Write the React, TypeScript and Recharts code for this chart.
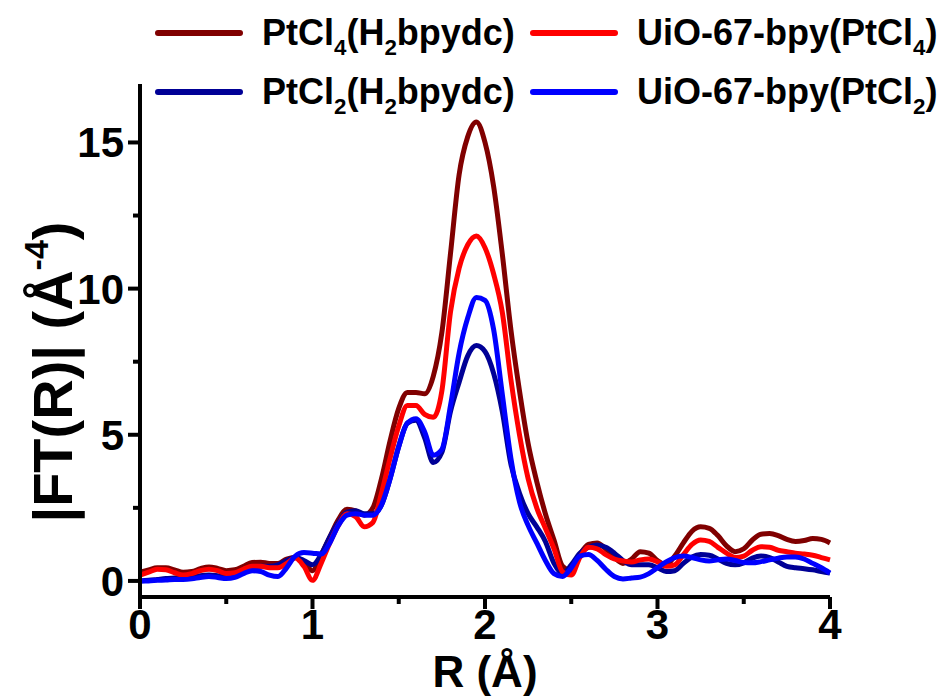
import React from "react";
import { LineChart, Line, XAxis, YAxis } from "recharts";

const R = [
  0, 0.05, 0.1, 0.15, 0.2, 0.25, 0.3, 0.35, 0.4, 0.45, 0.5, 0.55, 0.6, 0.65, 0.7, 0.75, 0.8, 0.85, 0.9, 0.95,
  1.0, 1.05, 1.1, 1.15, 1.2, 1.25, 1.3, 1.35, 1.4, 1.45, 1.5, 1.55, 1.6, 1.65, 1.7, 1.75, 1.8, 1.85, 1.9, 1.95,
  2.0, 2.05, 2.1, 2.15, 2.2, 2.25, 2.3, 2.35, 2.4, 2.45, 2.5, 2.55, 2.6, 2.65, 2.7, 2.75, 2.8, 2.85, 2.9, 2.95,
  3.0, 3.05, 3.1, 3.15, 3.2, 3.25, 3.3, 3.35, 3.4, 3.45, 3.5, 3.55, 3.6, 3.65, 3.7, 3.75, 3.8, 3.85, 3.9, 3.95, 4.0,
];

// PtCl4(H2bpydc)
const ptcl4Ligand = [
  0.3, 0.38, 0.45, 0.45, 0.38, 0.3, 0.32, 0.42, 0.48, 0.43, 0.35, 0.38, 0.5, 0.63, 0.64, 0.6, 0.6, 0.75, 0.8, 0.65,
  0.35, 0.9, 1.5, 2.1, 2.45, 2.4, 2.25, 2.5, 3.5, 4.8, 5.9, 6.45, 6.45, 6.4, 7.0, 8.5, 11.2, 13.9, 15.2, 15.7,
  15.0, 13.5, 11.2, 8.6, 6.5, 4.7, 3.4, 2.3, 1.4, 0.5, 0.35, 0.9, 1.25, 1.3, 1.1, 0.8, 0.6, 0.75, 1.0, 0.95,
  0.7, 0.55, 0.85, 1.3, 1.7, 1.85, 1.8, 1.55, 1.2, 1.0, 1.1, 1.4, 1.6, 1.62, 1.55, 1.42, 1.35, 1.38, 1.45, 1.42, 1.3,
];

// UiO-67-bpy(PtCl4)
const uioPtcl4 = [
  0.2, 0.3, 0.4, 0.38, 0.28, 0.2, 0.25, 0.35, 0.4, 0.35, 0.25, 0.28, 0.4, 0.5, 0.5, 0.45, 0.45, 0.6, 0.78, 0.5,
  0.02, 0.6, 1.3, 1.9, 2.3, 2.2, 1.85, 2.0, 3.0, 4.2, 5.3, 6.0, 6.0, 5.7, 5.6, 6.5, 9.2, 10.7, 11.5, 11.8,
  11.4, 10.5, 9.2, 6.9, 5.0, 3.5, 2.5, 1.8, 1.1, 0.3, 0.2, 0.8, 1.15, 1.1, 0.9, 0.75, 0.68, 0.65, 0.72, 0.75,
  0.65, 0.5, 0.55, 0.9, 1.25, 1.4, 1.35, 1.15, 0.95, 0.8, 0.85, 1.05, 1.17, 1.15, 1.05, 1.0, 0.95, 0.92, 0.88, 0.8, 0.72,
];

// PtCl2(H2bpydc)
const ptcl2Ligand = [
  0.0, 0.02, 0.05, 0.08, 0.1, 0.1, 0.12, 0.18, 0.2, 0.18, 0.15, 0.2, 0.35, 0.48, 0.5, 0.5, 0.55, 0.7, 0.8, 0.7,
  0.55, 0.9, 1.5, 2.0, 2.35, 2.4, 2.3, 2.3, 2.6, 3.5, 4.6, 5.4, 5.5, 4.9, 4.05, 4.4, 5.8, 6.8, 7.7, 8.05,
  7.85, 7.1, 5.8, 4.0, 3.0, 2.3, 1.85, 1.35, 0.6, 0.25, 0.55, 0.95, 1.15, 1.23, 1.15, 0.95, 0.7, 0.55, 0.55, 0.55,
  0.45, 0.32, 0.35, 0.6, 0.82, 0.9, 0.88, 0.75, 0.6, 0.55, 0.62, 0.78, 0.85, 0.8, 0.65, 0.5, 0.45, 0.42, 0.38, 0.32, 0.27,
];

// UiO-67-bpy(PtCl2)
const uioPtcl2 = [
  0.0, 0.0, 0.02, 0.03, 0.05, 0.05, 0.07, 0.12, 0.15, 0.12, 0.08, 0.12, 0.25, 0.35, 0.32, 0.2, 0.15, 0.45, 0.85, 0.97,
  0.95, 0.92, 1.3, 1.9, 2.25, 2.3, 2.25, 2.25, 2.6, 3.5, 4.6, 5.4, 5.55, 5.1, 4.3, 4.5, 6.0, 7.8, 9.0, 9.7,
  9.6, 8.6, 6.4, 4.2, 2.7, 1.9, 1.3, 0.7, 0.25, 0.15, 0.45, 0.85, 0.9, 0.7, 0.4, 0.15, 0.07, 0.1, 0.13, 0.25,
  0.45, 0.65, 0.8, 0.85, 0.8, 0.72, 0.68, 0.72, 0.75, 0.7, 0.63, 0.62, 0.66, 0.72, 0.78, 0.82, 0.82, 0.75, 0.6, 0.45, 0.27,
];

const xTicks = [0, 0.5, 1, 1.5, 2, 2.5, 3, 3.5, 4];
const yTicks = [0, 2.5, 5, 7.5, 10, 12.5, 15];

const data = R.map((r, i) => ({
  r,
  a: ptcl4Ligand[i],
  b: uioPtcl4[i],
  c: ptcl2Ligand[i],
  d: uioPtcl2[i],
}));

const FONT = "'Liberation Sans', Arial, sans-serif";
const C_DARKRED = "#800000";
const C_RED = "#ff0000";
const C_NAVY = "#000096";
const C_BLUE = "#0000ff";

const YTick = (props: any) => {
  const { x, y, payload } = props;
  const ax = x + 16;
  const major = payload.value % 5 === 0;
  return (
    <g>
      <line x1={ax - (major ? 12 : 7)} x2={ax} y1={y} y2={y} stroke="#000" strokeWidth={4} />
      {major && (
        <text x={ax - 16} y={y + 15} textAnchor="end" fontSize={42} fontWeight={700} fontFamily={FONT} fill="#000">
          {payload.value}
        </text>
      )}
    </g>
  );
};

const XTick = (props: any) => {
  const { x, y, payload } = props;
  const ay = y - 16;
  const major = Number.isInteger(payload.value);
  return (
    <g>
      <line x1={x} x2={x} y1={ay} y2={ay + (major ? 12 : 7)} stroke="#000" strokeWidth={4} />
      {major && (
        <text x={x} y={ay + 42} textAnchor="middle" fontSize={42} fontWeight={700} fontFamily={FONT} fill="#000">
          {payload.value}
        </text>
      )}
    </g>
  );
};

const YLabel = () => {
  const cx = 52;
  const cy = 372;
  return (
    <text
      x={cx}
      y={cy}
      transform={`rotate(-90 ${cx} ${cy})`}
      textAnchor="middle"
      dy={20}
      fontSize={56}
      fontWeight={700}
      fontFamily={FONT}
      fill="#000"
    >
      <tspan>|FT(R)| (Å</tspan>
      <tspan fontSize={34} dy={-24}>-4</tspan>
      <tspan dy={24}>)</tspan>
    </text>
  );
};

const XLabel = (props: any) => {
  const { viewBox } = props;
  const cx = viewBox.x + viewBox.width / 2;
  return (
    <text x={cx} y={687} textAnchor="middle" fontSize={44} fontWeight={700} fontFamily={FONT} fill="#000">
      R (Å)
    </text>
  );
};

const subStyle: React.CSSProperties = { fontSize: "0.62em", verticalAlign: "-0.45em", lineHeight: 0 };

const legendItems = [
  { color: C_DARKRED, left: 155, top: 33, label: <>PtCl<span style={subStyle}>4</span>(H<span style={subStyle}>2</span>bpydc)</> },
  { color: C_RED, left: 530, top: 33, label: <>UiO-67-bpy(PtCl<span style={subStyle}>4</span>)</> },
  { color: C_NAVY, left: 155, top: 92, label: <>PtCl<span style={subStyle}>2</span>(H<span style={subStyle}>2</span>bpydc)</> },
  { color: C_BLUE, left: 530, top: 92, label: <>UiO-67-bpy(PtCl<span style={subStyle}>2</span>)</> },
];

export default function App() {
  return (
    <div style={{ position: "absolute", left: 0, top: 0, width: 944, height: 699, background: "#fff", fontFamily: FONT }}>
      <LineChart width={944} height={699} data={data} margin={{ top: 84, right: 114, bottom: 0, left: 0 }}>
        <XAxis
          dataKey="r"
          type="number"
          domain={[0, 4]}
          ticks={xTicks}
          height={102}
          tickSize={12}
          tickMargin={4}
          tickLine={false}
          axisLine={{ stroke: "#000", strokeWidth: 4 }}
          tick={<XTick />}
          label={<XLabel />}
          interval={0}
        />
        <YAxis
          type="number"
          domain={[-0.55, 17]}
          ticks={yTicks}
          width={140}
          tickSize={12}
          tickMargin={4}
          tickLine={false}
          axisLine={{ stroke: "#000", strokeWidth: 4 }}
          tick={<YTick />}
          label={<YLabel />}
          interval={0}
          allowDataOverflow
        />
        <Line type="monotone" dataKey="a" stroke={C_DARKRED} strokeWidth={5} dot={false} isAnimationActive={false} />
        <Line type="monotone" dataKey="c" stroke={C_NAVY} strokeWidth={5} dot={false} isAnimationActive={false} />
        <Line type="monotone" dataKey="b" stroke={C_RED} strokeWidth={5} dot={false} isAnimationActive={false} />
        <Line type="monotone" dataKey="d" stroke={C_BLUE} strokeWidth={5} dot={false} isAnimationActive={false} />
      </LineChart>
      {legendItems.map((it, i) => (
        <div
          key={i}
          style={{
            position: "absolute",
            left: it.left,
            top: it.top - 25,
            height: 50,
            display: "flex",
            alignItems: "center",
            whiteSpace: "nowrap",
          }}
        >
          <div style={{ width: 88, height: 6, borderRadius: 3, background: it.color }} />
          <div style={{ marginLeft: 19, fontSize: 36, fontWeight: 700, color: "#000", lineHeight: "50px" }}>
            {it.label}
          </div>
        </div>
      ))}
    </div>
  );
}
